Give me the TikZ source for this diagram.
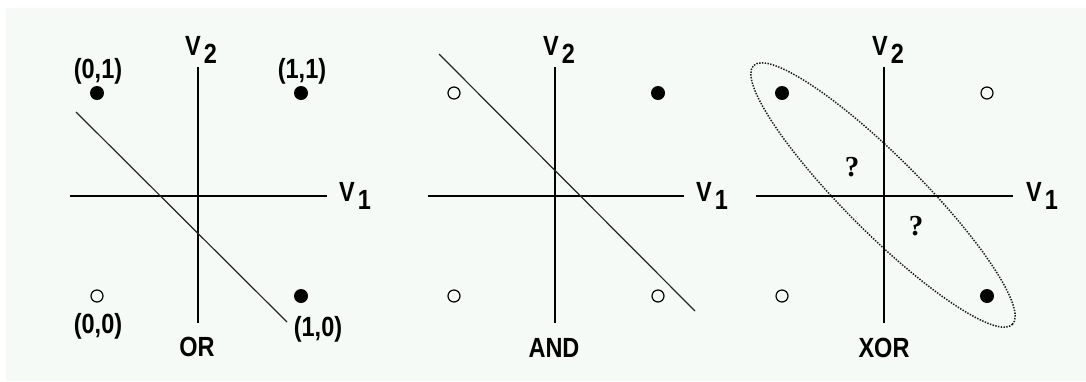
\documentclass[tikz,border=0pt]{standalone}
\usepackage{fontspec}
\setmainfont{Liberation Sans}
\newfontfamily\qfont{Liberation Serif}
\usetikzlibrary{shapes.geometric}
\definecolor{bg}{HTML}{F5FAF7}
\newcommand{\tall}[1]{\scalebox{1}[1.18]{#1}}
\newcommand{\vsub}[1]{\tall{V\kern3pt\raisebox{-7pt}{#1}}}
\begin{document}
\begin{tikzpicture}[x=1pt,y=-1pt,
  axis/.style={line width=1.8pt, black},
  sep/.style={line width=1.2pt, black!85},
  on/.style={circle, fill=black, inner sep=0pt, minimum size=14pt},
  off/.style={circle, draw=black, line width=1.2pt, fill=bg, inner sep=0pt, minimum size=12pt},
  lbl/.style={font=\fontsize{23.5}{26}\selectfont\bfseries, inner sep=0pt, anchor=base},
  vlbl/.style={lbl, anchor=base west},
  qm/.style={font=\fontsize{29}{32}\selectfont\qfont\bfseries, inner sep=0pt},
  ring/.style={ellipse, draw=black!90, line width=1.5pt, dash pattern=on 1.4pt off 1.4pt, inner sep=0pt}
]
\useasboundingbox (0,0) rectangle (1086,381);
\fill[white] (0,0) rectangle (1086,381);
\fill[bg] (6,8) rectangle (1086,381);

% ---------- Panel 1: OR ----------
\coordinate (t1) at (198,67); \coordinate (b1) at (198,323);
\coordinate (l1) at (70,196); \coordinate (r1) at (327,196);
\draw[axis] (t1) -- (b1);
\draw[axis] (l1) -- (r1);
\node[vlbl] (v2a) at (185,55) {\vsub{2}};
\node[vlbl] (v1a) at (339,201) {\vsub{1}};
\node[on]  (p01a) at (97,93) {};
\node[on]  (p11a) at (301,93) {};
\node[off] (p00a) at (97,296) {};
\node[on]  (p10a) at (301,296) {};
\node[lbl] (lab01) at (98,78) {\tall{(0,1)}};
\node[lbl] (lab11) at (302,78) {\tall{(1,1)}};
\node[lbl] (lab00) at (98,333) {\tall{(0,0)}};
\node[lbl] (lab10) at (318,336) {\tall{(1,0)}};
\node[lbl] (ora) at (197,356) {\tall{OR}};
\coordinate (s1a) at (76,112); \coordinate (s1b) at (287,322);
\draw[sep] (s1a) -- (s1b);

% ---------- Panel 2: AND ----------
\coordinate (t2) at (555,67); \coordinate (b2) at (555,323);
\coordinate (l2) at (428,196); \coordinate (r2) at (684,196);
\draw[axis] (t2) -- (b2);
\draw[axis] (l2) -- (r2);
\node[vlbl] (v2b) at (543,55) {\vsub{2}};
\node[vlbl] (v1b) at (696,201) {\vsub{1}};
\node[off] (p01b) at (454,93) {};
\node[on]  (p11b) at (658,93) {};
\node[off] (p00b) at (454,296) {};
\node[off] (p10b) at (658,296) {};
\node[lbl] (andb) at (554,357) {\tall{AND}};
\coordinate (s2a) at (439,54); \coordinate (s2b) at (695,311);
\draw[sep] (s2a) -- (s2b);

% ---------- Panel 3: XOR ----------
\coordinate (t3) at (884,67); \coordinate (b3) at (884,323);
\coordinate (l3) at (756,196); \coordinate (r3) at (1013,196);
\node[ring, minimum width=366pt, minimum height=76pt, rotate=-45] (ell) at (883,195) {};
\draw[axis] (t3) -- (b3);
\draw[axis] (l3) -- (r3);
\node[vlbl] (v2c) at (872,55) {\vsub{2}};
\node[vlbl] (v1c) at (1026,201) {\vsub{1}};
\node[on]  (p01c) at (782,93) {};
\node[off] (p11c) at (987,93) {};
\node[off] (p00c) at (782,296) {};
\node[on]  (p10c) at (987,296) {};
\node[qm] (q1) at (852,167) {?};
\node[qm] (q2) at (916,226) {?};
\node[lbl] (xorc) at (884,357) {\tall{XOR}};
\end{tikzpicture}
\end{document}
